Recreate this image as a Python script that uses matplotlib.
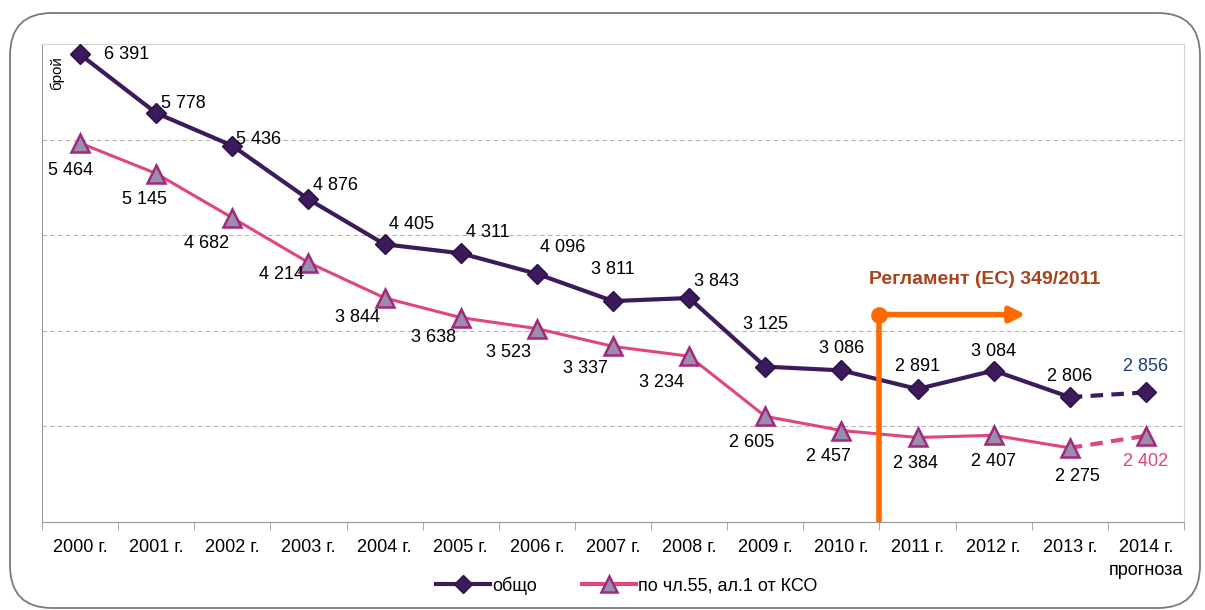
import matplotlib.pyplot as plt
from matplotlib.patches import FancyBboxPatch
from matplotlib.lines import Line2D

plt.rcParams['font.family'] = ['Liberation Sans', 'DejaVu Sans']

years = ['2000 г.', '2001 г.', '2002 г.', '2003 г.', '2004 г.', '2005 г.', '2006 г.',
         '2007 г.', '2008 г.', '2009 г.', '2010 г.', '2011 г.', '2012 г.', '2013 г.',
         '2014 г.\nпрогноза']
total = [6391, 5778, 5436, 4876, 4405, 4311, 4096, 3811, 3843, 3125, 3086, 2891, 3084, 2806, 2856]
art55 = [5464, 5145, 4682, 4214, 3844, 3638, 3523, 3337, 3234, 2605, 2457, 2384, 2407, 2275, 2402]
reg_text = 'Регламент (ЕС) 349/2011'

# label offsets (pixels) relative to each point
off_total = [(47, 0), (27, 10), (26, 6), (27, 14), (27, 20), (27, 21), (26, 26), (0, 32),
             (27, 17), (0, 42), (0, 22), (0, 23), (0, 19), (0, 21), (0, 26)]
off_art = [(-10, -27), (-12, -26), (-26, -26), (-27, -12), (-27, -20), (-27, -20), (-28, -24),
           (-28, -22), (-28, -26), (-14, -26), (-13, -26), (-2, -26), (0, -26), (8, -29), (0, -26)]

c_tot = '#3d1a5c'
c_art = '#e0457b'
tri_face = '#9a8eaa'
tri_edge = '#a0287f'

fig = plt.figure(figsize=(12.05, 6.1), dpi=100)
frame = FancyBboxPatch((10 / 1205, 2 / 610), 1190 / 1205, 595 / 610,
                       boxstyle='round,pad=0,rounding_size=0.035', transform=fig.transFigure,
                       fill=False, edgecolor='#7a7a7a', lw=1.3, mutation_aspect=2.0)
fig.patches.append(frame)

ax = fig.add_axes([42 / 1205, 1 - 522 / 610, 1142 / 1205, 478 / 610])
x = list(range(len(years)))

ax.plot(x[:-1], total[:-1], color=c_tot, lw=3, zorder=3)
ax.plot(x[-2:], total[-2:], color=c_tot, lw=3, ls=(0, (3, 2)), zorder=3)
ax.plot(x, total, ls='none', marker='D', ms=10, mfc=c_tot, mec='#2a0f42', zorder=4)

ax.plot(x[:-1], art55[:-1], color=c_art, lw=2.2, zorder=3)
ax.plot(x[-2:], art55[-2:], color=c_art, lw=3, ls=(0, (3, 2)), zorder=3)
ax.plot(x, art55, ls='none', marker='^', ms=13, mfc=tri_face, mec=tri_edge, mew=1.8, zorder=4)

def fmt(v):
    return f'{v:,}'.replace(',', ' ')

for i, v in enumerate(total):
    col = '#1f3a78' if i == len(total) - 1 else 'black'
    ax.annotate(fmt(v), (i, v), xytext=off_total[i], textcoords='offset pixels',
                ha='center', va='center', fontsize=13, color=col, zorder=5)
for i, v in enumerate(art55):
    col = c_art if i == len(art55) - 1 else 'black'
    ax.annotate(fmt(v), (i, v), xytext=off_art[i], textcoords='offset pixels',
                ha='center', va='center', fontsize=13, color=col, zorder=5)

# regulation marker
orange = '#ff6a00'
ax.plot([10.5, 10.5], [1500, 3670], color=orange, lw=4, solid_capstyle='butt', zorder=6,
        clip_on=False)
ax.plot([10.5], [3670], 'o', color=orange, ms=11, zorder=6)
ax.annotate('', xy=(12.42, 3670), xytext=(10.5, 3670),
            arrowprops=dict(arrowstyle='-|>,head_length=0.9,head_width=0.45', color=orange, lw=4,
                            shrinkA=0, shrinkB=0), zorder=6)
ax.text(11.88, 4040, reg_text, ha='center', va='center', fontsize=14, fontweight='bold',
        color='#a8431b')

ax.set_xlim(-0.5, 14.5)
ax.set_ylim(1500, 6500)
ax.set_yticks([2500, 3500, 4500, 5500])
ax.yaxis.grid(True, ls=(0, (4, 3)), color='#b5b5b5', lw=0.8)
ax.tick_params(axis='y', length=0, labelleft=False)
ax.set_xticks(x)
ax.set_xticklabels(years, fontsize=13, linespacing=1.5)
ax.set_xticks([i + 0.5 for i in range(-1, 15)], minor=True)
ax.tick_params(axis='x', which='major', length=0, pad=12)
ax.tick_params(axis='x', which='minor', length=6, color='#999999', direction='out')

for s in ['top', 'right']:
    ax.spines[s].set_color('#d6d6d6')
for s in ['left', 'bottom']:
    ax.spines[s].set_color('#999999')

ax.text(0.013, 0.975, 'брой', transform=ax.transAxes, rotation=90, ha='center', va='top',
        fontsize=11)

handles = [Line2D([], [], color=c_tot, lw=3, marker='D', ms=9, mfc=c_tot, mec='#2a0f42'),
           Line2D([], [], color=c_art, lw=3, marker='^', ms=12, mfc=tri_face, mec=tri_edge,
                  mew=1.8)]
fig.legend(handles, ['общо', 'по чл.55, ал.1 от КСО'], loc='center', bbox_to_anchor=(0.52, 0.04),
           ncol=2, frameon=False, handlelength=3, handletextpad=0.1, columnspacing=2.5,
           prop={'size': 13})

fig.savefig('out.png', dpi=100)
